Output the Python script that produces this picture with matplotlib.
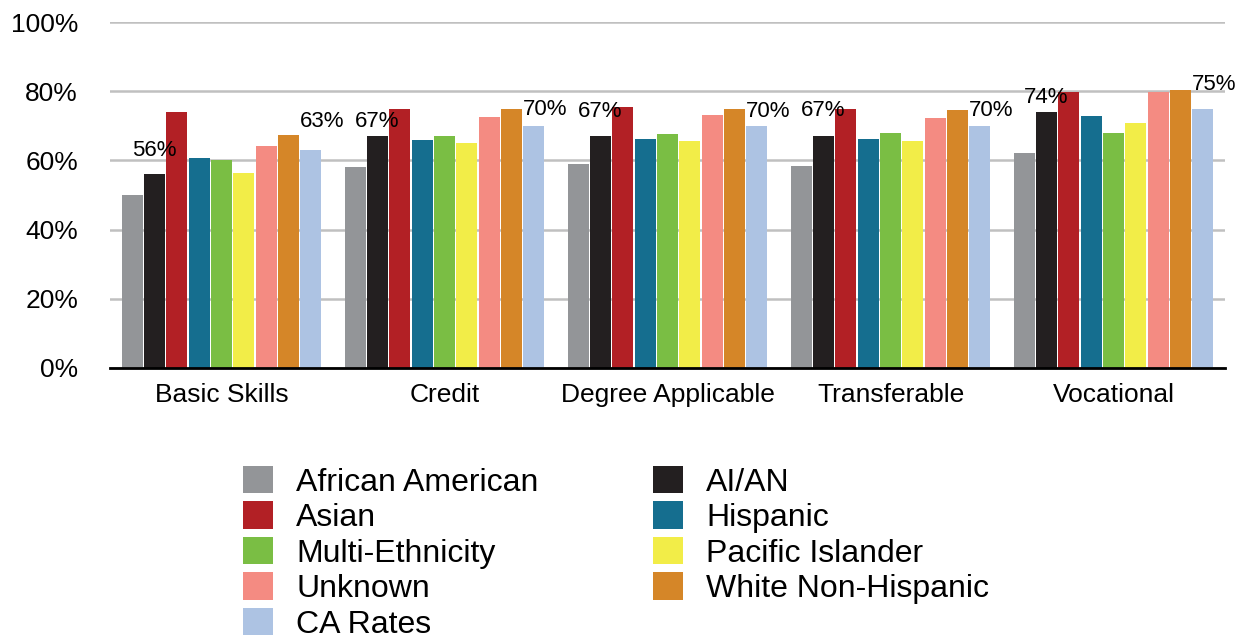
import matplotlib
matplotlib.use('Agg')
import matplotlib.pyplot as plt
import numpy as np

categories = ['Basic Skills', 'Credit', 'Degree Applicable', 'Transferable', 'Vocational']
groups = ['African American', 'AI/AN', 'Asian', 'Hispanic', 'Multi-Ethnicity',
          'Pacific Islander', 'Unknown', 'White Non-Hispanic', 'CA Rates']

african_american = [50, 58, 59, 58.5, 62]
ai_an = [56, 67, 67, 67, 74]
asian = [74, 75, 75.4, 75, 79.7]
hispanic = [60.8, 66, 66.3, 66.3, 72.7]
multi_ethnicity = [60, 67, 67.5, 68, 68]
pacific_islander = [56.5, 65, 65.5, 65.5, 70.7]
unknown = [64.3, 72.5, 73, 72.2, 79.7]
white = [67.2, 74.8, 75, 74.5, 80.3]
ca_rates = [63, 70, 70, 70, 75]

series = [african_american, ai_an, asian, hispanic, multi_ethnicity,
          pacific_islander, unknown, white, ca_rates]
colors = ['#939598', '#231f20', '#b22025', '#156e8f', '#7abe44',
          '#f2ed48', '#f48b82', '#d58628', '#adc3e3']

# label offsets above bar tops (points), per category
ai_off = [13, 6.5, 13.5, 14.5, 6.5]
ca_off = [16.5, 8, 6.5, 7, 13]

plt.rcParams['font.family'] = ['Liberation Sans', 'DejaVu Sans']

fig = plt.figure(figsize=(12.41, 6.42), dpi=100)
ax = fig.add_axes([110 / 1241, 1 - 368 / 642, 1115 / 1241, 346 / 642])

x = np.arange(len(categories))
pitch = 0.1
bars = []
for i, vals in enumerate(series):
    pos = x + (i - 4) * pitch
    b = ax.bar(pos, vals, width=0.094, color=colors[i], label=groups[i], zorder=3)
    bars.append(b)

for j in range(len(categories)):
    xa = x[j] + (1 - 4) * pitch
    ax.annotate('%d%%' % round(ai_an[j]), (xa, ai_an[j]), xytext=(0, ai_off[j]),
                textcoords='offset points', ha='center', va='baseline', fontsize=16, zorder=5)
    xc = x[j] + (8 - 4) * pitch - 0.047
    ax.annotate('%d%%' % round(ca_rates[j]), (xc, ca_rates[j]), xytext=(0, ca_off[j]),
                textcoords='offset points', ha='left', va='baseline', fontsize=16, zorder=5)

ax.set_xlim(-0.5, 4.5)
ax.set_ylim(0, 100)
ax.set_yticks(range(0, 101, 20))
ax.set_yticklabels(['%d%%' % v for v in range(0, 101, 20)])
ax.set_xticks(x)
ax.set_xticklabels(categories)
ax.tick_params(axis='y', length=0, pad=23, labelsize=19)
ax.tick_params(axis='x', length=0, pad=11, labelsize=19)
ax.yaxis.grid(True, color='#c0c0c0', linewidth=1.8, zorder=0)
for s in ['top', 'right', 'left']:
    ax.spines[s].set_visible(False)
ax.spines['bottom'].set_color('black')
ax.spines['bottom'].set_linewidth(2)
ax.spines['bottom'].set_zorder(4)

order = [0, 2, 4, 6, 8, 1, 3, 5, 7]
handles = [bars[i] for i in order]
labels = [groups[i] for i in order]
fig.legend(handles, labels, loc='upper left', bbox_to_anchor=(243 / 1241, 1 - 466 / 642),
           ncol=2, frameon=False, fontsize=23, handlelength=0.94, handleheight=0.94,
           handletextpad=0.72, columnspacing=3.6, labelspacing=0.12,
           borderpad=0, borderaxespad=0)

fig.savefig('out.png', dpi=100)
